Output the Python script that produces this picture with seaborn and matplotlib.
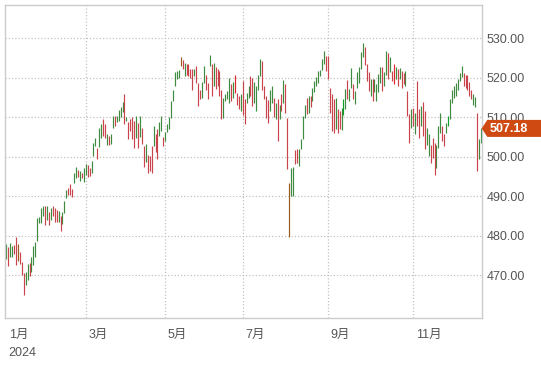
import numpy as np
import pandas as pd
import matplotlib
matplotlib.use("Agg")
import matplotlib.pyplot as plt
import matplotlib.transforms as mtransforms
from matplotlib.patches import Polygon
import seaborn as sns

# ---------------- data ----------------
highs = [
    477.9, 477.1, 478.1, 477.5, 477.7, 479.8, 477.9, 475.9, 473.3, 470.5,
    470.7, 472.9, 473.2, 474.6, 477.3, 478.3, 484.5, 484.7, 487.0, 487.6,
    487.5, 487.5, 486.0, 487.0, 487.5, 487.1, 486.6, 486.2, 485.1, 486.0,
    488.7, 491.7, 492.1, 493.0, 491.9, 495.9, 497.5, 496.6, 496.4, 496.0,
    497.1, 498.1, 497.9, 497.2, 499.0, 503.5, 504.8, 502.2, 507.2, 508.3,
    509.6, 508.4, 505.7, 505.3, 505.7, 510.4, 510.4, 510.4, 511.9, 512.6,
    513.9, 516.0, 510.0, 508.7, 509.6, 510.0, 509.1, 510.4, 508.5, 510.4,
    507.4, 502.8, 503.2, 500.4, 500.3, 502.8, 507.8, 505.7, 507.0, 508.9,
    510.4, 504.9, 506.3, 508.3, 510.0, 514.0, 517.0, 521.4, 521.7, 521.9,
    525.3, 524.5, 523.8, 523.4, 523.6, 522.3, 522.1, 522.3, 523.0, 518.6,
    517.0, 519.0, 523.1, 520.8, 518.7, 525.7, 523.6, 523.8, 522.8, 522.3,
    521.7, 517.0, 514.9, 515.8, 516.6, 520.0, 518.3, 518.9, 520.8, 516.2,
    515.4, 516.0, 519.2, 514.7, 516.2, 517.9, 520.4, 520.0, 518.9, 517.9,
    520.6, 524.8, 524.2, 517.9, 515.4, 514.3, 517.0, 518.0, 515.0, 513.5,
    514.5, 513.0, 516.0, 519.5, 518.4, 509.9, 493.4, 497.2, 497.5, 501.6,
    502.0, 501.9, 504.4, 510.3, 513.1, 515.0, 515.4, 515.4, 517.3, 519.2,
    520.1, 521.8, 522.0, 524.7, 526.9, 525.4, 525.5, 517.5, 515.8, 514.5,
    515.0, 512.0, 511.5, 512.4, 514.6, 517.1, 519.5, 517.1, 522.4, 518.4,
    516.7, 521.4, 522.6, 526.6, 528.8, 527.7, 523.5, 521.4, 519.8, 519.7,
    519.7, 518.4, 521.0, 522.6, 522.6, 521.4, 526.9, 526.3, 525.2, 521.8,
    523.5, 522.6, 522.2, 522.5, 521.7, 521.3, 521.7, 516.6, 510.7, 512.2,
    512.4, 511.1, 519.2, 512.0, 512.8, 513.8, 511.6, 507.3, 505.7, 503.1,
    504.8, 503.5, 502.9, 507.8, 511.1, 507.8, 505.7, 508.6, 510.3, 514.5,
    517.0, 517.8, 518.7, 519.7, 521.3, 523.1, 521.1, 520.8, 520.6, 518.9,
    517.0, 515.8, 515.1, 511.1, 504.5, 507.3,
]
lows = [
    474.1, 472.4, 474.7, 474.6, 475.4, 472.6, 473.7, 472.9, 470.1, 464.9,
    467.5, 468.8, 469.8, 470.7, 472.5, 474.7, 478.6, 483.2, 483.2, 485.1,
    482.8, 484.1, 482.8, 484.1, 485.1, 483.5, 483.4, 483.6, 481.3, 483.1,
    485.8, 489.6, 490.4, 490.4, 489.8, 493.4, 494.5, 494.9, 493.8, 494.5,
    493.6, 495.3, 494.9, 495.2, 495.8, 500.1, 502.7, 499.5, 502.4, 504.8,
    505.3, 504.8, 502.9, 503.1, 503.3, 507.4, 507.8, 508.7, 509.1, 510.0,
    511.3, 508.3, 509.1, 504.4, 506.6, 504.4, 502.2, 504.8, 502.3, 504.9,
    503.2, 497.3, 498.6, 496.0, 496.5, 495.9, 502.8, 501.1, 499.4, 505.3,
    506.6, 502.8, 504.1, 506.2, 507.0, 509.8, 514.1, 517.9, 519.6, 520.0,
    523.0, 522.3, 520.4, 520.8, 520.4, 520.0, 517.0, 520.4, 518.7, 512.8,
    514.5, 515.0, 518.7, 517.0, 514.5, 523.0, 515.5, 517.9, 517.2, 517.9,
    515.4, 509.5, 509.9, 514.1, 514.5, 513.7, 514.1, 514.9, 516.2, 513.2,
    512.0, 511.5, 510.5, 508.2, 513.7, 514.9, 515.4, 512.8, 513.7, 511.6,
    517.0, 520.4, 517.0, 514.5, 509.9, 508.5, 511.5, 513.5, 510.0, 509.5,
    504.0, 509.5, 511.6, 513.7, 511.2, 497.0, 479.8, 490.0, 490.0, 498.1,
    498.5, 497.6, 501.9, 504.4, 509.9, 510.8, 511.2, 512.5, 514.2, 516.3,
    518.0, 518.8, 520.5, 522.0, 523.5, 521.8, 519.6, 511.0, 506.4, 506.0,
    507.0, 506.0, 507.0, 506.9, 510.5, 512.0, 514.7, 514.2, 517.5, 514.6,
    513.3, 517.5, 518.8, 522.2, 525.2, 523.2, 519.2, 516.7, 515.4, 514.2,
    516.3, 514.2, 516.3, 518.8, 516.7, 518.0, 520.7, 519.7, 521.4, 519.2,
    518.4, 519.8, 518.0, 519.6, 517.5, 518.3, 517.9, 510.3, 503.5, 507.3,
    507.8, 505.7, 507.8, 504.8, 507.8, 505.2, 501.9, 503.1, 500.2, 498.5,
    499.7, 495.5, 497.2, 502.3, 506.1, 504.0, 502.7, 506.1, 507.8, 509.5,
    513.7, 515.0, 515.4, 517.0, 519.2, 520.3, 517.9, 517.5, 517.0, 515.5,
    514.5, 513.2, 512.5, 496.4, 499.5, 503.5,
]
# G = up, R = down, B = brown (highlighted), g / r = bright variants
moves = list(
    "GRGGRRBRRR" "GGRGGGGGGG" "RGRGRRRGRG" "GGRRRGGRGR" "GGRRGGGRGG"
    "RRGRGGRGGG" "GRGRRRRGRG" "RRGRRRGRRG" "GRGGGGGGGG" "BRGRRRRGRR"
    "RGGRRGRGRR" "RRGGGGRGrR" "RGRRGGRRGG" "GGRRRRGGRG" "RGRGRRBGGR"
    "RGGGGRGRGG" "GGGGGRRRRR" "GRRGgGRGGR" "GGGGGRRRGR" "GGGGRGGRGR"
    "rGRGRRGRRG" "RGRRGRRGGR" "RRGGGRRGgG" "GGGGGGRRRR" "RGGRGG"
)
last_price = 507.18
price_ticks = [470, 480, 490, 500, 510, 520, 530]
month_labels = ["1月", "3月", "5月", "7月", "9月", "11月"]
month_start_bar = [0, 41, 82, 122, 166, 210]
year_label = "2024"

# ---------------- style ----------------
sns.set_theme(style="white")
plt.rcParams["font.family"] = ["Liberation Sans", "Noto Sans CJK JP", "DejaVu Sans"]
text_color = "#555555"
palette = {"G": "#3e8a3e", "R": "#c9434b", "B": "#9a5a1c",
           "g": "#0f9e28", "r": "#e3262e"}

bars = pd.DataFrame({"bar": np.arange(len(highs)), "high": highs,
                     "low": lows, "move": moves})
long = bars.melt(id_vars=["bar", "move"], value_vars=["low", "high"],
                 value_name="price")

fig = plt.figure(figsize=(5.41, 3.65), dpi=100)
ax = fig.add_axes([4.5 / 541, 1 - 318.3 / 365, (482 - 4.5) / 541,
                   (318.3 - 4.7) / 365])

sns.lineplot(data=long, x="bar", y="price", units="bar", hue="move",
             palette=palette, estimator=None, sort=False, legend=False,
             linewidth=0.85, solid_capstyle="butt", ax=ax)

ax.set_xlim(-0.93, len(highs) - 0.5)
ax.set_ylim(459.1, 538.5)
ax.set_xlabel("")
ax.set_ylabel("")

# y axis on right
ax.yaxis.tick_right()
ax.set_yticks(price_ticks)
ax.set_yticklabels([f"{v:.2f}" for v in price_ticks])
ax.tick_params(axis="y", length=0, pad=3.6, labelsize=9, labelcolor=text_color)

# x axis month ticks
ax.set_xticks(month_start_bar)
ax.set_xticklabels(month_labels)
ax.tick_params(axis="x", length=0, pad=8, labelsize=9, labelcolor=text_color)
offset = mtransforms.ScaledTranslation(2.5 / 100, 0, fig.dpi_scale_trans)
for lbl in ax.get_xticklabels():
    lbl.set_horizontalalignment("left")
    lbl.set_transform(lbl.get_transform() + offset)

ax.grid(True, color="#c2c2c2", linestyle=(0, (1, 1.6)), linewidth=0.9)
ax.get_xgridlines()[0].set_visible(False)
ax.set_axisbelow(True)

for sp in ax.spines.values():
    sp.set_visible(True)
    sp.set_color("#cccccc")
    sp.set_linewidth(1.0)

fig.text(8 / 541, 1 - 353.5 / 365, year_label, ha="left", va="center",
         fontsize=9, color=text_color)

# price tag
anchor = mtransforms.ScaledTranslation(1.0, last_price, ax.get_yaxis_transform())
tag_trans = mtransforms.Affine2D() + anchor
tag = Polygon([(-0.3, 0), (5.3, 8.5), (62, 8.5), (62, -8.5), (5.3, -8.5)],
              closed=True, transform=tag_trans, facecolor="#cf4a12",
              edgecolor="none", zorder=10, clip_on=False)
fig.add_artist(tag)
fig.text(26.5, -0.5, f"{last_price:.2f}", transform=tag_trans, ha="center",
         va="center", fontsize=9, fontweight="bold", color="white", zorder=11)

fig.savefig("out.png", dpi=100)
